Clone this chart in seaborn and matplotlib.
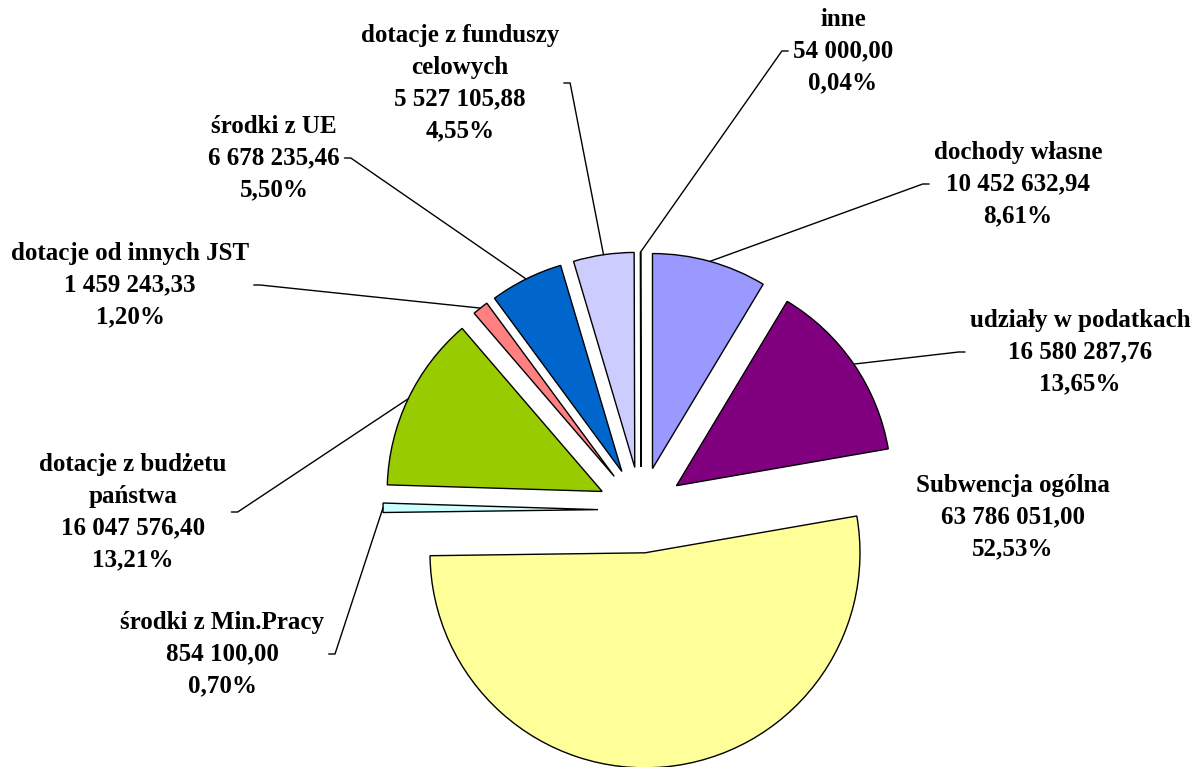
import numpy as np
import matplotlib
matplotlib.use('Agg')
import matplotlib.pyplot as plt
import seaborn as sns

# data (PLN)
categories = ['dochody własne', 'udziały w podatkach', 'Subwencja ogólna',
              'środki z Min.Pracy', 'dotacje z budżetu\npaństwa',
              'dotacje od innych JST', 'środki z UE',
              'dotacje z funduszy\ncelowych', 'inne']
amounts = [10452632.94, 16580287.76, 63786051.00, 854100.00, 16047576.40,
           1459243.33, 6678235.46, 5527105.88, 54000.00]
colors = ['#9999FF', '#800080', '#FFFF99', '#CCFFFF', '#99CC00',
          '#FF8080', '#0066CC', '#CCCCFF', '#000080']

# label block centres in image pixels, and whether a leader line is drawn
label_px = [(1018, 184), (1080, 352), (1013, 517), (222, 654), (133, 512),
            (130, 285), (274, 158), (460, 83), (843, 51)]
leader = [True, True, False, True, True, True, True, True, True]

W, H = 1192, 767
CX, CY, R_PX = 641, 510, 215   # pie centre and radius in pixels


def px2data(px, py):
    return (px - CX) / R_PX, (CY - py) / R_PX


def fmt_pl(v):
    return f'{v:,.2f}'.replace(',', ' ').replace('.', ',')


sns.set_theme(style='white')
plt.rcParams['font.family'] = ['Liberation Serif', 'DejaVu Serif']
plt.rcParams['text.color'] = 'black'

fig = plt.figure(figsize=(W / 100, H / 100), dpi=100)
ax = fig.add_axes([0, 0, 1, 1])

wedges, _ = ax.pie(amounts, colors=colors, startangle=90, counterclock=False,
                   explode=[0.2] * len(amounts), radius=1,
                   wedgeprops=dict(edgecolor='black', linewidth=1.0))
# pie() resets the limits, so set them afterwards
ax.set_xlim(-CX / R_PX, (W - CX) / R_PX)
ax.set_ylim(-(H - CY) / R_PX, CY / R_PX)
ax.axis('off')

total = sum(amounts)
for w, name, val, (lx, ly), has_line in zip(wedges, categories, amounts, label_px, leader):
    txt = f'{name}\n{fmt_pl(val)}\n{fmt_pl(100 * val / total)}%'
    tx, ty = px2data(lx, ly)
    mid = np.deg2rad((w.theta1 + w.theta2) / 2)
    pt = (w.center[0] + w.r * np.cos(mid), w.center[1] + w.r * np.sin(mid))
    if has_line:
        right_side = tx > pt[0]
        ax.annotate(txt, xy=pt, xytext=(tx, ty), ha='center', va='center',
                    fontsize=18, fontweight='bold', linespacing=1.5,
                    color='black',
                    arrowprops=dict(arrowstyle='-', color='black', lw=1,
                                    shrinkA=1, shrinkB=0,
                                    relpos=(0, 0.5) if right_side else (1, 0.5),
                                    connectionstyle='arc,angleA=%d,armA=11,rad=0'
                                    % (180 if right_side else 0)))
    else:
        ax.text(tx, ty, txt, ha='center', va='center', fontsize=18,
                fontweight='bold', linespacing=1.5, color='black')

fig.savefig('out.png', dpi=100, facecolor='white')
